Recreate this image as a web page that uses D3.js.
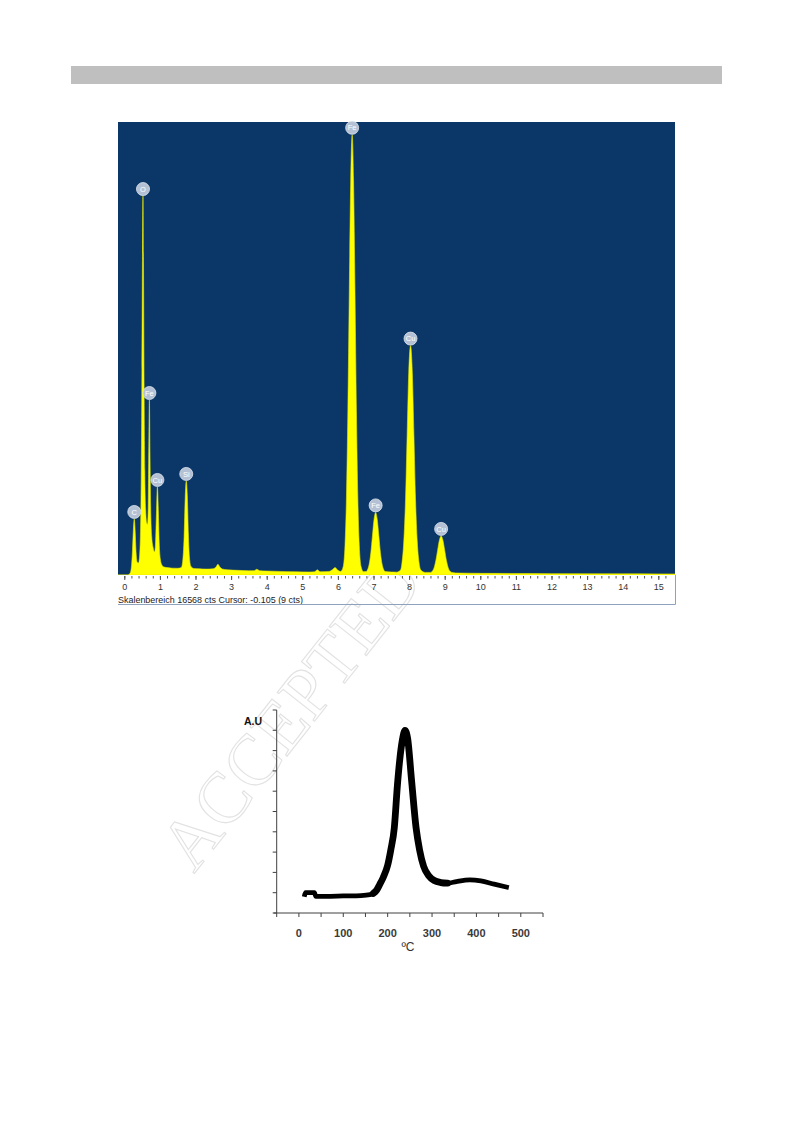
<!DOCTYPE html>
<html><head><meta charset="utf-8">
<script src="https://cdn.jsdelivr.net/npm/d3@7"></script>
<style>html,body{margin:0;padding:0;background:#fff;} svg{display:block;}</style>
</head><body>
<svg id="page" width="793" height="1123"></svg>
<script>
// ---------- EDS spectrum (energy in keV, counts) ----------
const edsEnergy = [-0.18,0.10,0.16,0.20,0.23,0.255,0.28,0.305,0.33,0.36,0.40,0.43,0.455,0.475,0.495,0.51,0.525,0.54,0.555,0.575,0.60,0.63,0.65,0.67,0.685,0.705,0.72,0.74,0.77,0.81,0.85,0.875,0.90,0.93,0.955,0.98,1.01,1.05,1.10,1.20,1.35,1.50,1.60,1.64,1.68,1.71,1.74,1.77,1.80,1.83,1.87,1.95,2.10,2.30,2.50,2.58,2.63,2.68,2.75,2.90,3.20,3.50,3.65,3.72,3.80,4.00,4.40,4.80,5.20,5.35,5.42,5.50,5.75,5.85,5.92,6.00,6.08,6.15,6.20,6.24,6.28,6.32,6.36,6.40,6.44,6.48,6.52,6.56,6.60,6.65,6.72,6.79,6.835,6.88,6.925,6.97,7.015,7.06,7.105,7.15,7.195,7.24,7.285,7.33,7.50,7.65,7.76,7.80,7.85,7.90,7.945,7.99,8.04,8.09,8.135,8.18,8.23,8.28,8.33,8.45,8.60,8.65,8.70,8.75,8.80,8.85,8.90,8.95,9.00,9.05,9.10,9.15,9.20,9.40,10.0,11.0,12.0,13.0,14.0,15.0,15.5];
const edsCounts = [0,0,60,300,900,1650,2050,1600,850,480,440,700,1600,3500,7500,11500,13860,11200,7000,3800,2400,1900,1850,2300,4200,6400,4600,2500,1400,1000,850,1100,2100,3220,2400,1200,600,380,300,270,250,245,270,500,1400,2800,3440,2900,1500,650,320,240,230,215,230,300,390,300,220,190,170,155,160,210,160,145,130,120,110,120,190,120,130,200,270,170,130,310,1110,2820,6020,10370,14420,16100,14420,10370,6020,2820,1110,310,120,125,200,400,810,1430,2030,2290,2030,1430,810,400,200,125,110,105,180,450,1210,2790,5130,7410,8390,7410,5130,2790,1210,450,180,95,95,140,260,520,900,1270,1430,1270,900,520,260,140,95,70,60,55,50,45,42,40,38];
const peakLabels = ["C","O","Fe","Cu","Si","Fe","Fe","Cu","Cu"];
const peakEnergy = [0.28,0.525,0.705,0.93,1.74,6.40,7.06,8.04,8.90];
const peakCounts = [2050,13860,6400,3220,3440,16100,2290,8390,1430];
const edsMajorTicks = [0,1,2,3,4,5,6,7,8,9,10,11,12,13,14,15];
const edsScaleRange = 16568;
const edsCaption = "Skalenbereich 16568 cts Cursor: -0.105  (9 cts)";

// ---------- TPR profile (temperature ºC, signal A.U) ----------
const tprTemp = [12,15,35,38,60,100,140,160,168,175,182,190,200,207,215,222,227,233,239,245,254,264,272,281,292,305,320,335,355,385,410,440,473];
const tprSignal = [0.8,1.0,1.0,0.82,0.82,0.84,0.86,0.9,0.97,1.12,1.4,1.75,2.35,3.1,4.2,6.3,7.5,8.5,9.0,8.6,6.5,4.2,3.1,2.3,1.85,1.6,1.5,1.47,1.55,1.63,1.58,1.42,1.25];
const tprXTicks = [0,100,200,300,400,500];
const tprXMinor = [-50,0,50,100,150,200,250,300,350,400,450,500,550];
const tprYTicks = [0,1,2,3,4,5,6,7,8,9,10];

const svg = d3.select("#page");

// top grey bar
svg.append("rect").attr("x",71).attr("y",66).attr("width",651).attr("height",18).attr("fill","#bfbfbf");

// watermark (behind charts)
svg.append("text")
  .attr("transform","translate(194,874) rotate(-51.7)")
  .attr("font-family","'Liberation Serif', 'Times New Roman', serif")
  .attr("font-size",72)
  .attr("fill","none").attr("stroke","#e2e2e2").attr("stroke-width",1.1)
  .text("ACCEPTED");

// ---------- EDS chart ----------
const eds = svg.append("g");
const plotL = 118, plotR = 675, plotT = 122, plotB = 575;
eds.append("rect").attr("x",plotL).attr("y",plotT).attr("width",plotR-plotL).attr("height",plotB-plotT).attr("fill","#0b3768");

const ex = d3.scaleLinear().domain([0,15]).range([124.3,658.3]);
const ey = d3.scaleLinear().domain([0,edsScaleRange]).range([plotB,plotT]);

eds.append("clipPath").attr("id","edsclip").append("rect")
  .attr("x",plotL).attr("y",plotT).attr("width",plotR-plotL).attr("height",plotB-plotT);

const edsData = edsEnergy.map((e,i)=>({e, c: edsCounts[i]}));
const area = d3.area().x(d=>ex(d.e)).y0(ey(0)).y1(d=>ey(d.c)).curve(d3.curveMonotoneX);
eds.append("path").datum(edsData).attr("clip-path","url(#edsclip)")
  .attr("d",area).attr("fill","#ffff00").attr("stroke","#e8e800").attr("stroke-width",0.6);

// peak labels
const pl = eds.selectAll("g.pk").data(peakLabels.map((l,i)=>({l,e:peakEnergy[i],c:peakCounts[i]})))
  .enter().append("g").attr("class","pk")
  .attr("transform",d=>`translate(${ex(d.e)},${ey(d.c)-7})`);
pl.append("circle").attr("r",6.5).attr("fill","#b4c1d4").attr("stroke","#dfe6ef").attr("stroke-width",0.8);
pl.append("text").attr("text-anchor","middle").attr("dy","0.35em")
  .attr("font-family","'Liberation Sans', Arial, sans-serif").attr("font-size",7.5)
  .attr("fill","#ffffff").text(d=>d.l);

// axis
const minorTicks = d3.range(0,77).map(i=>i*0.2).filter(v=>v<=15.45);
const axMinor = d3.axisBottom(ex).tickValues(minorTicks).tickSize(2.5).tickFormat("");
const axMajor = d3.axisBottom(ex).tickValues(edsMajorTicks).tickSize(4).tickFormat(d=>String(d));
const gMin = eds.append("g").attr("transform",`translate(0,${plotB+1})`).call(axMinor);
gMin.select(".domain").remove();
gMin.selectAll("line").attr("stroke","#555");
const gMaj = eds.append("g").attr("transform",`translate(0,${plotB+1})`).call(axMajor);
gMaj.select(".domain").remove();
gMaj.selectAll("line").attr("stroke","#555");
gMaj.selectAll("text").attr("y",7.5).attr("dy","0.71em")
  .attr("font-family","'Liberation Sans', Arial, sans-serif").attr("font-size",9).attr("fill","#333");

eds.append("text").attr("x",118).attr("y",603)
  .attr("font-family","'Liberation Sans', Arial, sans-serif").attr("font-size",9).attr("fill","#222")
  .attr("textLength",185).attr("lengthAdjust","spacingAndGlyphs")
  .text(edsCaption);

// panel border (right + bottom)
eds.append("path").attr("d",`M${plotR+0.5},${plotB} V604.5 H${plotL}`)
  .attr("fill","none").attr("stroke","#8fa2bd").attr("stroke-width",1);

// ---------- TPR chart ----------
const tpr = svg.append("g");
const tx = d3.scaleLinear().domain([-50,550]).range([276.7,543]);
const ty = d3.scaleLinear().domain([0,10]).range([913,710]);
const axisCol = "#404040";

tpr.append("line").attr("x1",tx(-50)).attr("x2",tx(-50)).attr("y1",ty(10)).attr("y2",ty(0)).attr("stroke",axisCol);
tpr.append("line").attr("x1",tx(-50)-3).attr("x2",tx(550)).attr("y1",ty(0)).attr("y2",ty(0)).attr("stroke",axisCol);
tpr.selectAll("line.yt").data(tprYTicks).enter().append("line").attr("class","yt")
  .attr("x1",tx(-50)-4).attr("x2",tx(-50)).attr("y1",d=>ty(d)).attr("y2",d=>ty(d)).attr("stroke",axisCol);
tpr.selectAll("line.xt").data(tprXMinor).enter().append("line").attr("class","xt")
  .attr("x1",d=>tx(d)).attr("x2",d=>tx(d)).attr("y1",ty(0)).attr("y2",ty(0)+4).attr("stroke",axisCol);
tpr.selectAll("text.xl").data(tprXTicks).enter().append("text").attr("class","xl")
  .attr("x",d=>tx(d)).attr("y",ty(0)+23.5).attr("text-anchor","middle")
  .attr("font-family","'Liberation Sans', Arial, sans-serif").attr("font-size",11).attr("font-weight","bold")
  .attr("fill","#3a3a3a").text(d=>d);
tpr.append("text").attr("x",408).attr("y",951).attr("text-anchor","middle")
  .attr("font-family","'Liberation Sans', Arial, sans-serif").attr("font-size",12).attr("fill","#333").text("ºC");
tpr.append("text").attr("x",253).attr("y",725).attr("text-anchor","middle")
  .attr("font-family","'Liberation Sans', Arial, sans-serif").attr("font-size",10.5).attr("font-weight","bold")
  .attr("fill","#111").text("A.U");

const tprData = tprTemp.map((t,i)=>({t, v: tprSignal[i]}));
const line = d3.line().x(d=>tx(d.t)).y(d=>ty(d.v)).curve(d3.curveMonotoneX);
tpr.append("path").datum(tprData).attr("d",line).attr("fill","none")
  .attr("stroke","#000").attr("stroke-width",4.8).attr("stroke-linejoin","round");
tpr.append("path").datum(tprData.filter(d=>d.t>=168 && d.t<=335)).attr("d",line).attr("fill","none")
  .attr("stroke","#000").attr("stroke-width",6.8).attr("stroke-linejoin","round").attr("stroke-linecap","round");
</script>
</body></html>
